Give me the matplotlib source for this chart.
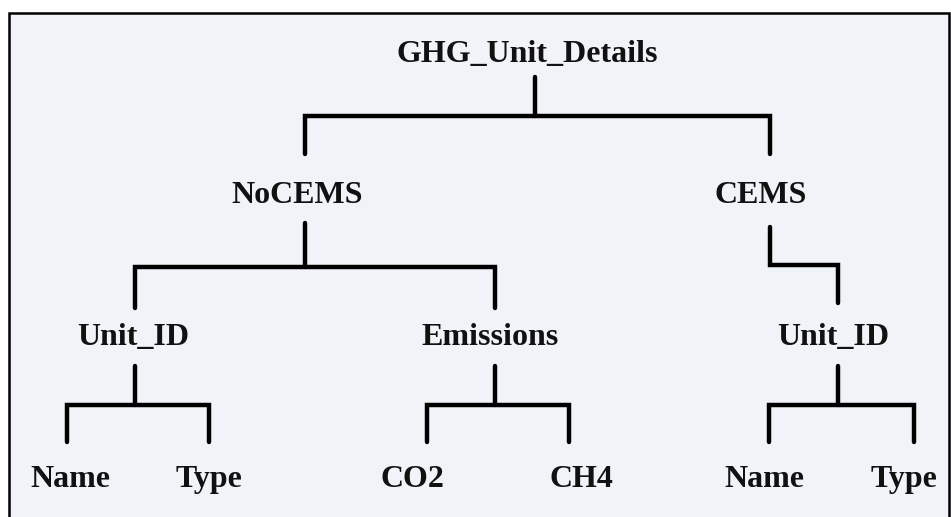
import matplotlib.pyplot as plt
from matplotlib.patches import Rectangle

# tree content
nodes = ['GHG_Unit_Details', 'NoCEMS', 'CEMS', 'Unit_ID', 'Emissions', 'Unit_ID',
         'Name', 'Type', 'CO2', 'CH4', 'Name', 'Type']
parents = [None, 0, 0, 1, 1, 2, 3, 3, 4, 4, 5, 5]
levels = [0, 1, 1, 2, 2, 2, 3, 3, 3, 3, 3, 3]

# layout (pixels): x of connector line, x of label centre
line_x = [535, 305, 770, 135, 495, 838, 67, 209, 427, 569, 769, 914]
text_x = [527, 297, 761, 133, 490, 833, 70, 209, 412, 581, 764, 904]
baseline_y = [62, 203, 345, 487]
stem_top = [77, 223, 366]
bar_y = [116, 267, 405]
drop_bottom = [154, 308, 442]

W, H = 951, 517
fig = plt.figure(figsize=(W / 100, H / 100), dpi=100)
ax = fig.add_axes([0, 0, 1, 1])
ax.set_xlim(0, W)
ax.set_ylim(H, 0)
ax.axis('off')
fig.patch.set_facecolor('white')

ax.add_patch(Rectangle((9, 13), 940, 520, facecolor='#f0f3f8', edgecolor='black', lw=1.8))

lw = 3.2
for i, name in enumerate(nodes):
    ax.text(text_x[i], baseline_y[levels[i]], name, ha='center', va='baseline',
            fontsize=23, fontweight='bold', family='Liberation Serif', color='#111111')
    kids = [k for k, p in enumerate(parents) if p == i]
    if not kids:
        continue
    lv = levels[i]
    px = line_x[i]
    if len(kids) == 1:
        # step connector (CEMS -> Unit_ID)
        cx = line_x[kids[0]]
        ax.plot([px, px, cx, cx], [stem_top[lv] + 4, bar_y[lv] - 2, bar_y[lv] - 2, drop_bottom[lv] - 5],
                color='black', lw=lw, solid_joinstyle='miter', solid_capstyle='round')
        continue
    ax.plot([px, px], [stem_top[lv], bar_y[lv]], color='black', lw=lw, solid_capstyle='round')
    xs = [line_x[k] for k in kids]
    ax.plot([xs[0], xs[0], xs[-1], xs[-1]],
            [drop_bottom[lv], bar_y[lv], bar_y[lv], drop_bottom[lv]],
            color='black', lw=lw, solid_joinstyle='miter', solid_capstyle='round')

fig.savefig('out.png', dpi=100)
